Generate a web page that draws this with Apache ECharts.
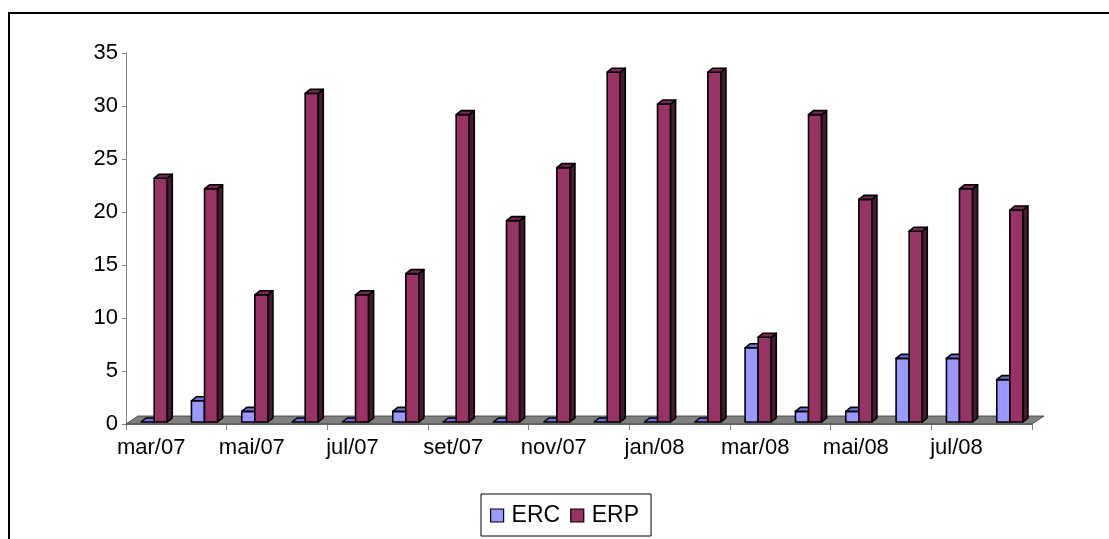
<!DOCTYPE html>
<html>
<head>
<meta charset="utf-8">
<script src="https://cdn.jsdelivr.net/npm/echarts@6/dist/echarts.min.js"></script>
<style>
  html, body { margin: 0; padding: 0; background: #fff; }
  #chart { width: 1109px; height: 539px; }
</style>
</head>
<body>
<div id="chart"></div>
<script>
// Monthly counts, March 2007 – August 2008
const months = ['mar/07','abr/07','mai/07','jun/07','jul/07','ago/07','set/07','out/07','nov/07',
                'dez/07','jan/08','fev/08','mar/08','abr/08','mai/08','jun/08','jul/08','ago/08'];
const ercValues = [0, 2, 1, 0, 0, 1, 0, 0, 0, 0, 0, 0, 7, 1, 1, 6, 6, 4];
const erpValues = [23, 22, 12, 31, 12, 14, 29, 19, 24, 33, 30, 33, 8, 29, 21, 18, 22, 20];
const yTicks = { min: 0, max: 35, step: 5 };

const FONT = "'Liberation Sans', Arial, sans-serif";
const DEPTH_X = 5, DEPTH_Y = -4;    // bar depth
const FLOOR_X = 12, FLOOR_Y = -8;   // floor depth

// Extruded column: front face, top face, right side face
function column3d(offset, front, topC, sideC) {
  return function (params, api) {
    const idx = api.value(0), val = api.value(1);
    const base = api.coord([idx, 0]);
    const tip = api.coord([idx, val]);
    const bw = api.size([1, 0])[0];
    const w = bw * 0.26;
    const x0 = base[0] + offset * bw / 50, x1 = x0 + w;
    const yB = base[1] - 2, yT = tip[1] - 2;
    const line = { stroke: '#000', lineWidth: 1.6, lineJoin: 'round' };
    const kids = [];
    if (yB - yT > 0.5) {
      kids.push({ type: 'rect', shape: { x: x0, y: yT, width: w, height: yB - yT },
                  style: Object.assign({ fill: front }, line) });
      kids.push({ type: 'polygon', shape: { points: [[x1, yT], [x1 + DEPTH_X, yT + DEPTH_Y],
                  [x1 + DEPTH_X, yB + DEPTH_Y], [x1, yB]] },
                  style: Object.assign({ fill: sideC }, line) });
    }
    kids.push({ type: 'polygon', shape: { points: [[x0, yT], [x0 + DEPTH_X, yT + DEPTH_Y],
                [x1 + DEPTH_X, yT + DEPTH_Y], [x1, yT]] },
                style: Object.assign({ fill: topC }, line) });
    return { type: 'group', children: kids };
  };
}

// Grey floor under the columns
function floorItem(params, api) {
  const bw = api.size([1, 0])[0];
  const a = api.coord([0, 0]), b = api.coord([months.length - 1, 0]);
  const L = a[0] - bw / 2, R = b[0] + bw / 2, y = a[1];
  return {
    type: 'polygon',
    shape: { points: [[L, y], [L + FLOOR_X, y + FLOOR_Y], [R + FLOOR_X, y + FLOOR_Y], [R, y]] },
    style: { fill: '#808080', stroke: '#333', lineWidth: 0.8 }
  };
}

const chart = echarts.init(document.getElementById('chart'), null, { renderer: 'canvas' });
chart.setOption({
  animation: false,
  backgroundColor: '#fff',
  textStyle: { fontFamily: FONT },
  grid: { left: 126, right: 77, top: 53, bottom: 115, containLabel: false },
  graphic: [{
    type: 'rect', z: 100, silent: true,
    shape: { x: 9, y: 13, width: 1130, height: 560 },
    style: { fill: 'none', stroke: '#000', lineWidth: 2 }
  }],
  legend: {
    left: 481, top: 494,
    orient: 'horizontal',
    padding: [10, 12, 9, 9],
    itemWidth: 13, itemHeight: 13, itemGap: 10,
    borderColor: '#000', borderWidth: 1, backgroundColor: '#fff',
    textStyle: { fontFamily: FONT, fontSize: 23, color: '#000', padding: [0, 0, 0, 3] },
    data: [
      { name: 'ERC', icon: 'rect', itemStyle: { color: '#9999FF', borderColor: '#000', borderWidth: 1.2 } },
      { name: 'ERP', icon: 'rect', itemStyle: { color: '#993366', borderColor: '#000', borderWidth: 1.2 } }
    ]
  },
  xAxis: {
    type: 'category',
    data: months,
    boundaryGap: true,
    axisLine: { show: true, lineStyle: { color: '#808080', width: 1 } },
    axisTick: { show: true, interval: 1, length: 6, lineStyle: { color: '#808080' } },
    axisLabel: { interval: 1, margin: 13, fontSize: 22, color: '#000', fontFamily: FONT },
    splitLine: { show: false }
  },
  yAxis: {
    type: 'value',
    min: yTicks.min, max: yTicks.max, interval: yTicks.step,
    axisLine: { show: true, lineStyle: { color: '#808080', width: 1 } },
    axisTick: { show: true, length: 4, lineStyle: { color: '#808080' } },
    axisLabel: { margin: 8, fontSize: 22, color: '#000', fontFamily: FONT },
    splitLine: { show: false }
  },
  series: [
    {
      name: 'floor', type: 'custom', silent: true, z: 1,
      data: [[0, 0]], encode: { x: 0, y: 1 },
      renderItem: floorItem
    },
    {
      name: 'ERC', type: 'custom', z: 2,
      itemStyle: { color: '#9999FF' },
      data: ercValues.map((v, i) => [i, v]), encode: { x: 0, y: 1 },
      renderItem: column3d(-10, '#9999FF', '#7070D8', '#4B4B9E')
    },
    {
      name: 'ERP', type: 'custom', z: 3,
      itemStyle: { color: '#993366' },
      data: erpValues.map((v, i) => [i, v]), encode: { x: 0, y: 1 },
      renderItem: column3d(3, '#993366', '#7A2952', '#4A1830')
    }
  ]
});
</script>
</body>
</html>
